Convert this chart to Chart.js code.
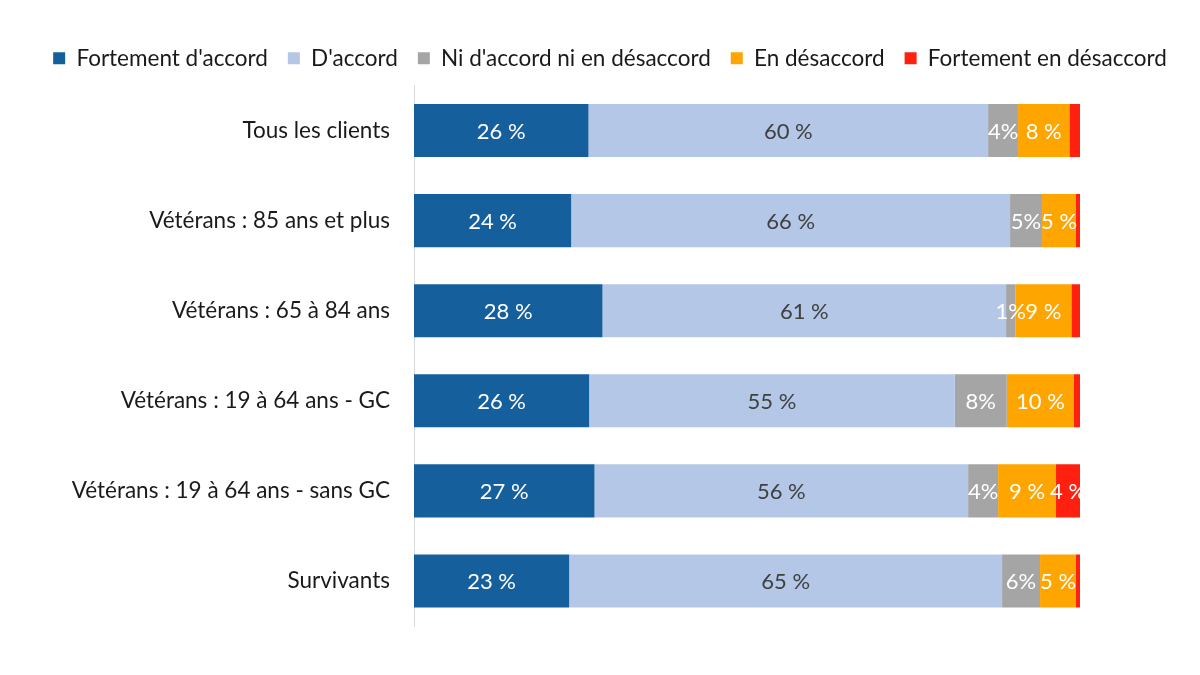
<!DOCTYPE html>
<html>
<head>
<meta charset="utf-8">
<script src="https://cdn.jsdelivr.net/npm/chart.js@4"></script>
<style>
  html, body { margin: 0; padding: 0; background: #fff; }
  #wrap { width: 1200px; height: 675px; }
</style>
</head>
<body>
<div id="wrap"><canvas id="chart" width="1200" height="675"></canvas></div>
<script>
const categories = ['Tous les clients', 'Vétérans : 85 ans et plus', 'Vétérans : 65 à 84 ans', 'Vétérans : 19 à 64 ans - GC', 'Vétérans : 19 à 64 ans - sans GC', 'Survivants'];
const seriesNames = ["Fortement d'accord", "D'accord", "Ni d'accord ni en désaccord", 'En désaccord', 'Fortement en désaccord'];
const seriesColors = ['#155F9D', '#B4C7E7', '#A5A5A5', '#FFA500', '#FF2010'];
const labelColors = ['#ffffff', '#404040', '#ffffff', '#ffffff', '#ffffff'];

const fortAccord = [26.2, 23.6, 28.3, 26.3, 27.1, 23.3];
const accord = [60.0, 65.9, 60.6, 54.9, 56.1, 65.0];
const neutre = [4.5, 4.8, 1.4, 7.8, 4.5, 5.7];
const desaccord = [7.7, 5.1, 8.4, 10.1, 8.7, 5.4];
const fortDesaccord = [1.6, 0.6, 1.3, 0.9, 3.6, 0.6];

const fortAccordLabels = ['26 %', '24 %', '28 %', '26 %', '27 %', '23 %'];
const accordLabels = ['60 %', '66 %', '61 %', '55 %', '56 %', '65 %'];
const neutreLabels = ['4%', '5%', '1%', '8%', '4%', '6%'];
const desaccordLabels = ['8 %', '5 %', '9 %', '10 %', '9 %', '5 %'];
const fortDesaccordLabels = ['', '', '', '', '4 %', ''];

const allValues = [fortAccord, accord, neutre, desaccord, fortDesaccord];
const allLabels = [fortAccordLabels, accordLabels, neutreLabels, desaccordLabels, fortDesaccordLabels];

const FONT = 'Lato, "Open Sans", sans-serif';

const segmentLabels = {
  id: 'segmentLabels',
  afterDatasetsDraw(chart) {
    const ctx = chart.ctx;
    ctx.save();
    ctx.font = '22px ' + FONT;
    ctx.textAlign = 'center';
    ctx.textBaseline = 'middle';
    chart.data.datasets.forEach((ds, i) => {
      const meta = chart.getDatasetMeta(i);
      meta.data.forEach((bar, j) => {
        const txt = allLabels[i][j];
        if (!txt) return;
        ctx.fillStyle = labelColors[i];
        ctx.fillText(txt, (bar.x + bar.base) / 2, bar.y + 1);
      });
    });
    ctx.restore();
  }
};

// a bit more room under the legend
const legendGap = {
  id: 'legendGap',
  beforeInit(chart) {
    const fit = chart.legend.fit;
    chart.legend.fit = function () {
      fit.call(this);
      this.height += 6;
    };
  }
};

new Chart(document.getElementById('chart'), {
  type: 'bar',
  data: {
    labels: categories,
    datasets: allValues.map((vals, i) => ({
      label: seriesNames[i],
      data: vals,
      backgroundColor: seriesColors[i],
      borderWidth: 0,
      barPercentage: 0.59,
      categoryPercentage: 1
    }))
  },
  options: {
    indexAxis: 'y',
    responsive: false,
    animation: false,
    layout: { padding: { top: 27, right: 0, bottom: 49, left: 20 } },
    plugins: {
      legend: {
        position: 'top',
        labels: {
          boxWidth: 12,
          boxHeight: 12,
          padding: 20,
          color: '#1a1a1a',
          font: { family: FONT, size: 22.5 }
        }
      },
      tooltip: { enabled: false }
    },
    scales: {
      x: { stacked: true, min: 0, max: 100, display: false },
      y: {
        stacked: true,
        grid: { display: false },
        border: { display: true, color: '#d9d9d9', width: 1 },
        ticks: { color: '#1a1a1a', padding: 16, font: { family: FONT, size: 22.5 } },
        afterFit(scale) { scale.width = 394; }
      },
      // empty right margin, keeps the bars ending at the same place as the picture
      yRight: {
        type: 'category',
        position: 'right',
        grid: { display: false },
        border: { display: false },
        ticks: { display: false },
        afterFit(scale) { scale.width = 120; }
      }
    }
  },
  plugins: [segmentLabels, legendGap]
});
</script>
</body>
</html>
